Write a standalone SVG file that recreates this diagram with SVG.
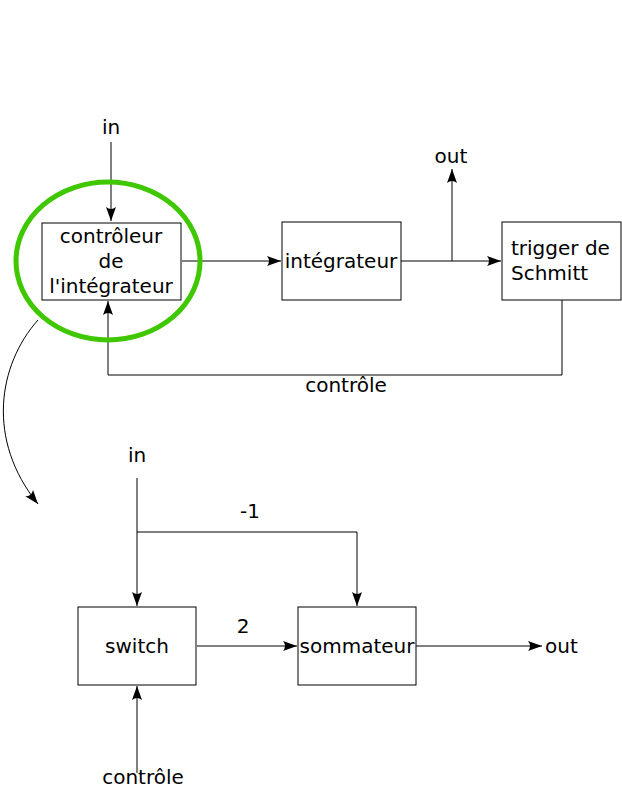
<svg xmlns="http://www.w3.org/2000/svg" width="622" height="789" viewBox="0 0 622 789">
<defs>
<marker id="ah" markerUnits="userSpaceOnUse" markerWidth="16" markerHeight="12" viewBox="-14 -6 16 12" refX="0" refY="0" orient="auto" overflow="visible">
<path d="M0,0 L-14,-5 Q-10,0 -14,5 Z" fill="#000"/>
</marker>
<style>
.box{fill:#fff;stroke:#000;stroke-width:1}
.ln{fill:none;stroke:#000;stroke-width:1}
.t{font-family:"DejaVu Sans",sans-serif;font-size:20px;fill:#000}
.m{text-anchor:middle}
</style>
</defs>
<rect width="622" height="789" fill="#fff"/>
<g id="connectors">
<path class="ln" d="M111,142 V221" marker-end="url(#ah)"/>
<path class="ln" d="M182,261 H281" marker-end="url(#ah)"/>
<path class="ln" d="M401,261 H501" marker-end="url(#ah)"/>
<path class="ln" d="M452,261 V169" marker-end="url(#ah)"/>
<path class="ln" d="M562,300 V375 H108 V301" marker-end="url(#ah)"/>
<path class="ln" d="M38,320 C-2,365 -14,440 38,504" marker-end="url(#ah)"/>
<path class="ln" d="M137,478 V606" marker-end="url(#ah)"/>
<path class="ln" d="M137,532 H357 V606" marker-end="url(#ah)"/>
<path class="ln" d="M197,646 H297" marker-end="url(#ah)"/>
<path class="ln" d="M416,646 H542" marker-end="url(#ah)"/>
<path class="ln" d="M137,773 V686" marker-end="url(#ah)"/>
</g>
<g id="controleur">
<rect class="box" x="42" y="223" width="139" height="77"/>
<text class="t m" x="111" y="243">contrôleur</text>
<text class="t m" x="111" y="268">de</text>
<text class="t m" x="111" y="293">l'intégrateur</text>
</g>
<g id="highlight">
<ellipse cx="108" cy="261" rx="92" ry="79" fill="none" stroke="#3fc700" stroke-width="5"/>
</g>
<g id="integrateur">
<rect class="box" x="282" y="222" width="119" height="78"/>
<text class="t m" x="341" y="268">intégrateur</text>
</g>
<g id="trigger">
<rect class="box" x="502" y="222" width="119" height="78"/>
<text class="t" x="511" y="255">trigger de</text>
<text class="t" x="511" y="280">Schmitt</text>
</g>
<g id="switch">
<rect class="box" x="78" y="607" width="118" height="78"/>
<text class="t m" x="137" y="653">switch</text>
</g>
<g id="sommateur">
<rect class="box" x="298" y="607" width="118" height="78"/>
<text class="t m" x="357" y="653">sommateur</text>
</g>
<g id="labels">
<text class="t m" x="111" y="134">in</text>
<text class="t m" x="451" y="163">out</text>
<text class="t m" x="346" y="392">contrôle</text>
<text class="t m" x="137" y="462">in</text>
<text class="t m" x="250" y="518">-1</text>
<text class="t m" x="243" y="633">2</text>
<text class="t" x="545" y="653">out</text>
<text class="t m" x="143" y="784">contrôle</text>
</g>
</svg>
